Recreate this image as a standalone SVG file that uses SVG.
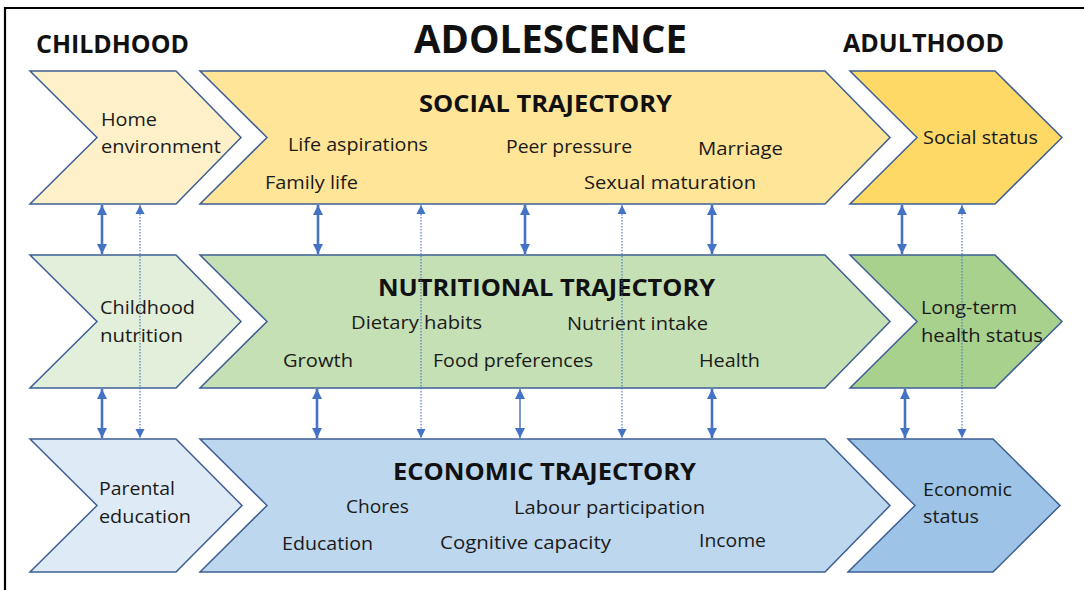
<svg xmlns="http://www.w3.org/2000/svg" width="1084" height="590" viewBox="0 0 1084 590">
<style>
.shape{stroke:#3E5F95;stroke-width:1.5;stroke-linejoin:miter}
.t{font-family:"Open Sans","Liberation Sans",sans-serif;font-size:18.5px;fill:#1a1a1a}
.h{font-family:"Open Sans","Liberation Sans",sans-serif;font-weight:bold;fill:#111}
.solid{stroke:#4472C4;stroke-width:2.6;fill:none}
.thin{stroke:#4472C4;stroke-width:1.4;fill:none}
.dot{stroke:#4472C4;stroke-width:1.1;stroke-dasharray:1.5 1.5;fill:none}
</style>
<defs>
<marker id="ah" viewBox="0 0 10 10" refX="10" refY="5" markerWidth="10" markerHeight="10" markerUnits="userSpaceOnUse" orient="auto-start-reverse">
<path d="M0,0 L10,5 L0,10 Z" fill="#4472C4"/>
</marker>
<marker id="ad" viewBox="0 0 10 10" refX="10" refY="5" markerWidth="9" markerHeight="10" markerUnits="userSpaceOnUse" orient="auto-start-reverse">
<path d="M0,0 L10,5 L0,10 Z" fill="#4472C4"/>
</marker>
</defs>
<rect x="0" y="0" width="1084" height="590" fill="#fff"/>
<path d="M5,590 V8 H1084" fill="none" stroke="#000" stroke-width="2.2"/>

<g id="headers">
<text class="h" x="36" y="53" font-size="25" textLength="153" lengthAdjust="spacingAndGlyphs">CHILDHOOD</text>
<text class="h" x="414" y="53" font-size="39" textLength="273" lengthAdjust="spacingAndGlyphs">ADOLESCENCE</text>
<text class="h" x="843" y="52" font-size="25" textLength="161" lengthAdjust="spacingAndGlyphs">ADULTHOOD</text>
</g>

<g id="home-environment">
<path class="shape" fill="#FEF0C9" d="M30,71 L176,71 L241,137.5 L176,204 L30,204 L97,137.5 Z"/>
<text class="t" x="101" y="126" textLength="56" lengthAdjust="spacingAndGlyphs">Home</text>
<text class="t" x="101" y="153" textLength="120" lengthAdjust="spacingAndGlyphs">environment</text>
</g>

<g id="social-trajectory">
<path class="shape" fill="#FFE598" d="M200,71 L825,71 L890,137.5 L825,204 L200,204 L267,137.5 Z"/>
<text class="h" x="419" y="112" font-size="24" textLength="253" lengthAdjust="spacingAndGlyphs">SOCIAL TRAJECTORY</text>
<text class="t" x="288" y="151" textLength="140" lengthAdjust="spacingAndGlyphs">Life aspirations</text>
<text class="t" x="506" y="153" textLength="126" lengthAdjust="spacingAndGlyphs">Peer pressure</text>
<text class="t" x="698" y="155" textLength="85" lengthAdjust="spacingAndGlyphs">Marriage</text>
<text class="t" x="265" y="189" textLength="93" lengthAdjust="spacingAndGlyphs">Family life</text>
<text class="t" x="584" y="189" textLength="172" lengthAdjust="spacingAndGlyphs">Sexual maturation</text>
</g>

<g id="social-status">
<path class="shape" fill="#FFD966" d="M850,71 L995,71 L1062,137.5 L995,204 L850,204 L917,137.5 Z"/>
<text class="t" x="923" y="144" textLength="115" lengthAdjust="spacingAndGlyphs">Social status</text>
</g>

<g id="childhood-nutrition">
<path class="shape" fill="#E2EFDA" d="M30,255 L176,255 L241,321.5 L176,388 L30,388 L97,321.5 Z"/>
<text class="t" x="100" y="314" textLength="95" lengthAdjust="spacingAndGlyphs">Childhood</text>
<text class="t" x="100" y="342" textLength="83" lengthAdjust="spacingAndGlyphs">nutrition</text>
</g>

<g id="nutritional-trajectory">
<path class="shape" fill="#C5E0B4" d="M200,255 L825,255 L890,321.5 L825,388 L200,388 L267,321.5 Z"/>
<text class="h" x="378" y="296" font-size="24" textLength="337" lengthAdjust="spacingAndGlyphs">NUTRITIONAL TRAJECTORY</text>
<text class="t" x="351" y="329" textLength="131" lengthAdjust="spacingAndGlyphs">Dietary habits</text>
<text class="t" x="567" y="330" textLength="141" lengthAdjust="spacingAndGlyphs">Nutrient intake</text>
<text class="t" x="283" y="367" textLength="70" lengthAdjust="spacingAndGlyphs">Growth</text>
<text class="t" x="433" y="367" textLength="160" lengthAdjust="spacingAndGlyphs">Food preferences</text>
<text class="t" x="699" y="367" textLength="61" lengthAdjust="spacingAndGlyphs">Health</text>
</g>

<g id="long-term-health-status">
<path class="shape" fill="#A9D18E" d="M850,255 L995,255 L1062,321.5 L995,388 L850,388 L917,321.5 Z"/>
<text class="t" x="921" y="314" textLength="96" lengthAdjust="spacingAndGlyphs">Long-term</text>
<text class="t" x="921" y="342" textLength="122" lengthAdjust="spacingAndGlyphs">health status</text>
</g>

<g id="parental-education">
<path class="shape" fill="#DEEBF7" d="M30,439 L176,439 L242,505.5 L176,572 L30,572 L97,505.5 Z"/>
<text class="t" x="99" y="495" textLength="76" lengthAdjust="spacingAndGlyphs">Parental</text>
<text class="t" x="99" y="523" textLength="92" lengthAdjust="spacingAndGlyphs">education</text>
</g>

<g id="economic-trajectory">
<path class="shape" fill="#BDD7EE" d="M200,439 L825,439 L890,505.5 L825,572 L200,572 L267,505.5 Z"/>
<text class="h" x="393" y="480" font-size="24" textLength="303" lengthAdjust="spacingAndGlyphs">ECONOMIC TRAJECTORY</text>
<text class="t" x="346" y="513" textLength="63" lengthAdjust="spacingAndGlyphs">Chores</text>
<text class="t" x="514" y="514" textLength="191" lengthAdjust="spacingAndGlyphs">Labour participation</text>
<text class="t" x="282" y="550" textLength="91" lengthAdjust="spacingAndGlyphs">Education</text>
<text class="t" x="440" y="549" textLength="171" lengthAdjust="spacingAndGlyphs">Cognitive capacity</text>
<text class="t" x="699" y="547" textLength="67" lengthAdjust="spacingAndGlyphs">Income</text>
</g>

<g id="economic-status">
<path class="shape" fill="#9DC3E6" d="M848,439 L993,439 L1060,505.5 L993,572 L848,572 L915,505.5 Z"/>
<text class="t" x="923" y="496" textLength="89" lengthAdjust="spacingAndGlyphs">Economic</text>
<text class="t" x="923" y="523" textLength="56" lengthAdjust="spacingAndGlyphs">status</text>
</g>

<g id="connectors">
<line class="solid" x1="102" y1="205" x2="102" y2="254" marker-start="url(#ah)" marker-end="url(#ah)"/>
<line class="solid" x1="102" y1="389" x2="102" y2="438" marker-start="url(#ah)" marker-end="url(#ah)"/>
<line class="dot" x1="140" y1="205" x2="140" y2="438" marker-start="url(#ad)" marker-end="url(#ad)"/>

<line class="solid" x1="318" y1="205" x2="318" y2="254" marker-start="url(#ah)" marker-end="url(#ah)"/>
<line class="solid" x1="525" y1="205" x2="525" y2="254" marker-start="url(#ah)" marker-end="url(#ah)"/>
<line class="solid" x1="712" y1="205" x2="712" y2="254" marker-start="url(#ah)" marker-end="url(#ah)"/>
<line class="solid" x1="317" y1="389" x2="317" y2="438" marker-start="url(#ah)" marker-end="url(#ah)"/>
<line class="thin" x1="520" y1="389" x2="520" y2="438" marker-start="url(#ah)" marker-end="url(#ah)"/>
<line class="solid" x1="712" y1="389" x2="712" y2="438" marker-start="url(#ah)" marker-end="url(#ah)"/>
<line class="dot" x1="421" y1="205" x2="421" y2="438" marker-start="url(#ad)" marker-end="url(#ad)"/>
<line class="dot" x1="622" y1="205" x2="622" y2="438" marker-start="url(#ad)" marker-end="url(#ad)"/>

<line class="solid" x1="902" y1="205" x2="902" y2="254" marker-start="url(#ah)" marker-end="url(#ah)"/>
<line class="solid" x1="905" y1="389" x2="905" y2="438" marker-start="url(#ah)" marker-end="url(#ah)"/>
<line class="dot" x1="962" y1="205" x2="962" y2="438" marker-start="url(#ad)" marker-end="url(#ad)"/>
</g>
</svg>
